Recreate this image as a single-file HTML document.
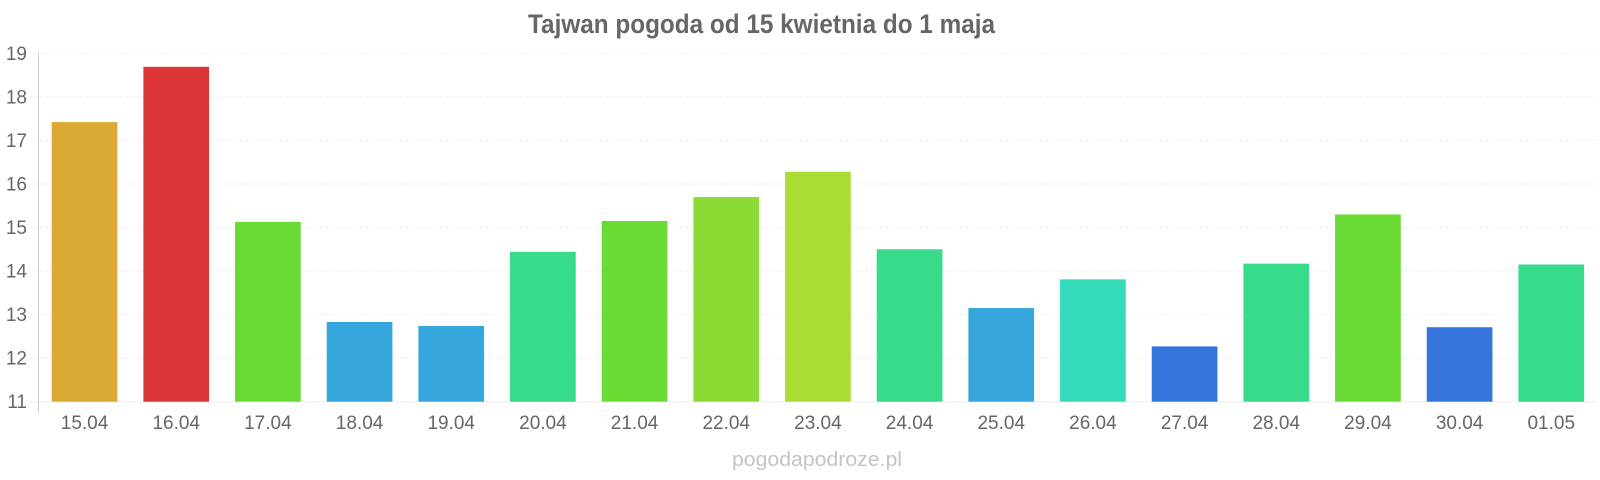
<!DOCTYPE html>
<html><head><meta charset="utf-8"><style>html,body{margin:0;padding:0;background:#fff}svg{display:block}</style></head>
<body>
<svg width="1600" height="480" xmlns="http://www.w3.org/2000/svg" font-family="Liberation Sans, sans-serif">
<text x="761.5" y="33" text-anchor="middle" font-size="27" font-weight="bold" fill="#666" textLength="467" lengthAdjust="spacingAndGlyphs">Tajwan pogoda od 15 kwietnia do 1 maja</text>
<g stroke="#efefef" stroke-width="1" stroke-dasharray="3,2">
<line x1="30" x2="1597" y1="53.3" y2="53.3"/><line x1="30" x2="1597" y1="96.9" y2="96.9"/><line x1="30" x2="1597" y1="140.4" y2="140.4"/><line x1="30" x2="1597" y1="184" y2="184"/><line x1="30" x2="1597" y1="227.5" y2="227.5"/><line x1="30" x2="1597" y1="271" y2="271"/><line x1="30" x2="1597" y1="314.6" y2="314.6"/><line x1="30" x2="1597" y1="358.1" y2="358.1"/>
</g>
<line x1="30" x2="1597" y1="401.7" y2="401.7" stroke="#eee"/>
<line x1="38.5" x2="38.5" y1="53" y2="412" stroke="#ccc"/>
<g font-size="19" fill="#666" text-anchor="end">
<text x="27" y="60">19</text><text x="27" y="103.5">18</text><text x="27" y="147">17</text><text x="27" y="190.5">16</text><text x="27" y="234">15</text><text x="27" y="277.5">14</text><text x="27" y="321">13</text><text x="27" y="364.5">12</text><text x="27" y="408">11</text>
</g>
<g id="bars"></g>
<g id="labels" font-size="19" fill="#666" text-anchor="middle"></g>
<text x="817" y="466" text-anchor="middle" font-size="20" fill="#c4c4c4" textLength="170" lengthAdjust="spacingAndGlyphs">pogodapodroze.pl</text>
<script>
var v=[17.42,18.69,15.13,12.83,12.74,14.44,15.15,15.7,16.28,14.5,13.15,13.81,12.27,14.17,15.3,12.71,14.15];
var c=["#dba933","#dc3535","#6adb35","#35a7dc","#35a7dc","#37db8a","#6adb35","#8adc35","#aadc35","#37db8a","#35a7dc","#35dbb9","#3474db","#37db8a","#6adb35","#3474db","#37db8a"];
var l=["15.04","16.04","17.04","18.04","19.04","20.04","21.04","22.04","23.04","24.04","25.04","26.04","27.04","28.04","29.04","30.04","01.05"];
var ns="http://www.w3.org/2000/svg",b=document.getElementById("bars"),t=document.getElementById("labels");
for(var i=0;i<17;i++){var x=51.7+i*91.67,y=401.7-(v[i]-11)*43.55;
var r=document.createElementNS(ns,"rect");r.setAttribute("x",x);r.setAttribute("y",y);r.setAttribute("width",65.7);r.setAttribute("height",401.7-y);r.setAttribute("fill",c[i]);b.appendChild(r);
var s=document.createElementNS(ns,"text");s.setAttribute("x",x+32.85);s.setAttribute("y",429);s.textContent=l[i];t.appendChild(s);}
</script>
</svg>
</body></html>
